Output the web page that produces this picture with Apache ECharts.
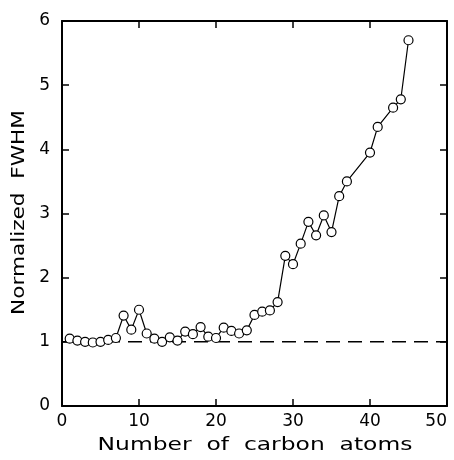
<!DOCTYPE html>
<html><head><meta charset="utf-8">
<script src="https://cdn.jsdelivr.net/npm/echarts@6/dist/echarts.min.js"></script>
<style>html,body{margin:0;padding:0;background:#fff}#c{width:454px;height:460px}</style>
</head><body><div id="c"></div>
<script>
const carbonAtoms = [1,2,3,4,5,6,7,8,9,10,11,12,13,14,15,16,17,18,19,20,21,22,23,24,25,26,27,28,29,30,31,32,33,34,35,36,37,40,41,43,44,45];
const fwhm = [1.05,1.02,1.00,0.99,1.00,1.03,1.06,1.41,1.19,1.50,1.13,1.05,1.00,1.07,1.02,1.16,1.12,1.23,1.08,1.06,1.22,1.17,1.13,1.18,1.42,1.47,1.49,1.62,2.34,2.21,2.53,2.87,2.66,2.97,2.71,3.27,3.50,3.95,4.35,4.65,4.78,5.70];
const refX = [0, 50];
const refY = [1, 1];
const xTicks = [0,10,20,30,40,50];
const yTicks = [0,1,2,3,4,5,6];
const xTitle = 'Number  of  carbon  atoms';
const yTitle = 'Normalized  FWHM';

const font = 'DejaVu Sans';
const chart = echarts.init(document.getElementById('c'), null, {renderer:'canvas'});
const axisCommon = {
  axisLine:{show:true, onZero:false, lineStyle:{color:'#000', width:2}},
  axisTick:{show:true, inside:true, length:7, lineStyle:{color:'#000', width:1.5}},
  splitLine:{show:false}
};
chart.setOption({
  animation:false,
  backgroundColor:'#fff',
  grid:{left:62, right:7, top:21, bottom:54, containLabel:false, outerBoundsMode:'none'},
  xAxis:[
    Object.assign({type:'value', min:xTicks[0], max:xTicks[xTicks.length-1], interval:10, position:'bottom',
      axisLabel:{fontFamily:font, fontSize:17, color:'#000', margin:7, alignMaxLabel:'right'}}, axisCommon),
    Object.assign({type:'value', min:0, max:50, interval:10, position:'top', axisLabel:{show:false}}, axisCommon)
  ],
  yAxis:[
    Object.assign({type:'value', min:yTicks[0], max:yTicks[yTicks.length-1], interval:1, position:'left',
      axisLabel:{fontFamily:font, fontSize:17, color:'#000', margin:12}}, axisCommon),
    Object.assign({type:'value', min:0, max:6, interval:1, position:'right', axisLabel:{show:false}}, axisCommon)
  ],
  graphic:[
    {type:'text', x:255, y:445, scaleX:1.3, scaleY:1,
     style:{text:xTitle, fontFamily:font, fontSize:18, fill:'#000', textAlign:'center', textVerticalAlign:'middle'}},
    {type:'text', x:19, y:212.5, rotation:Math.PI/2, scaleX:1.2, scaleY:1,
     style:{text:yTitle, fontFamily:font, fontSize:18, fill:'#000', textAlign:'center', textVerticalAlign:'middle'}}
  ],
  series:[
    {type:'line', data:refX.map((x,i)=>[x,refY[i]]), symbol:'none',
     lineStyle:{color:'#000', width:1.5, type:[14,8]}, silent:true, z:1},
    {type:'line', data:carbonAtoms.map((x,i)=>[x,fwhm[i]]), symbol:'circle', symbolSize:9,
     itemStyle:{color:'#fff', borderColor:'#000', borderWidth:1.2},
     lineStyle:{color:'#000', width:1.2}, z:3}
  ]
});
</script></body></html>
